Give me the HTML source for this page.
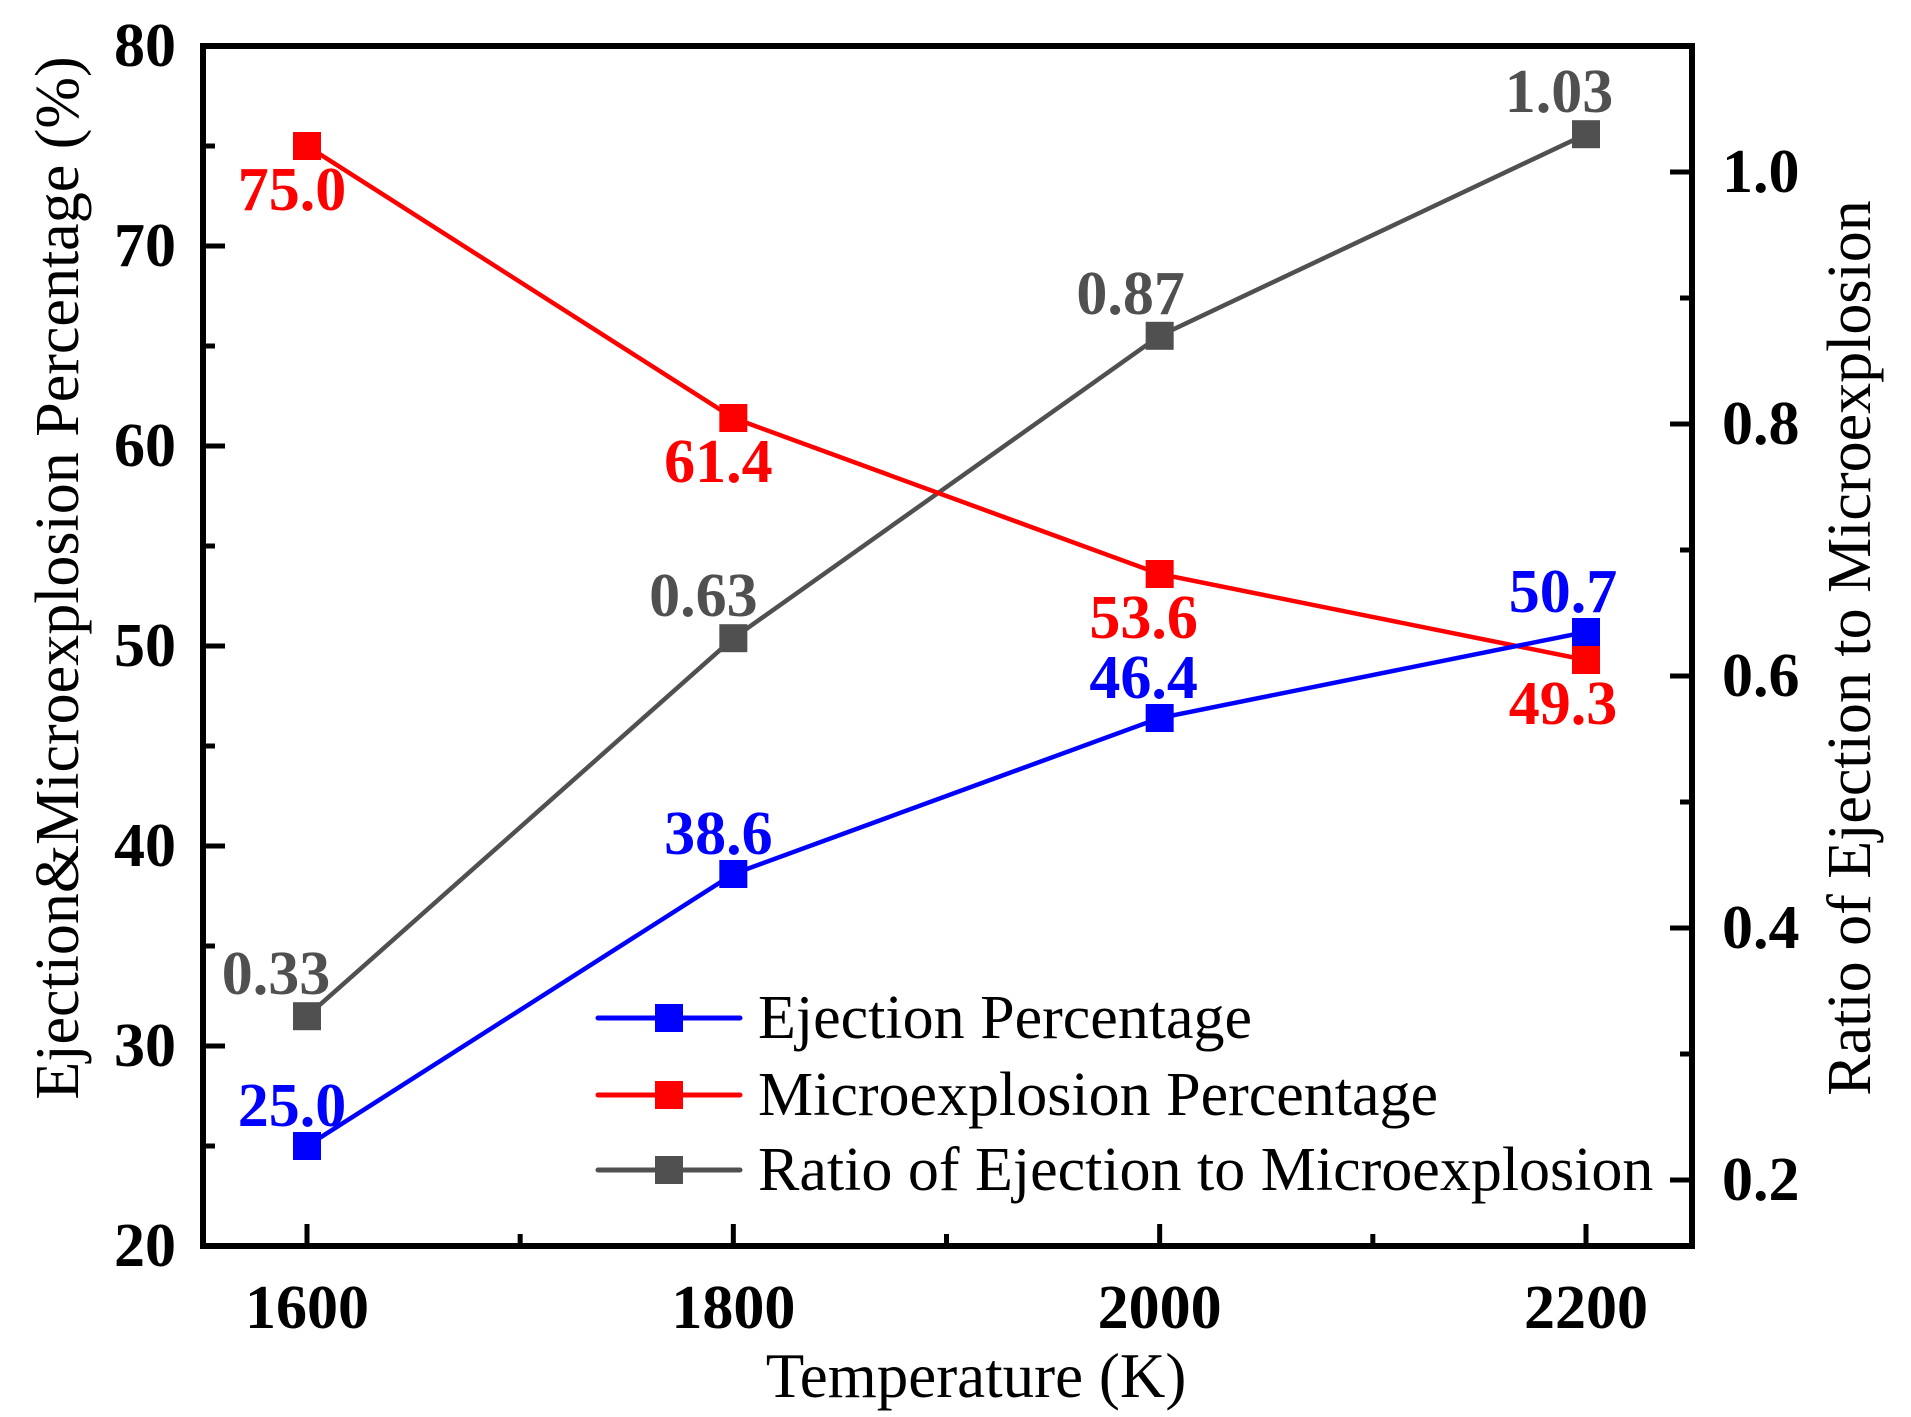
<!DOCTYPE html>
<html><head><meta charset="utf-8"><style>
html,body{margin:0;padding:0;background:#fff}
svg{display:block;font-family:"Liberation Serif","Times New Roman",serif}
</style></head><body>
<svg id="chart" width="1911" height="1417" viewBox="0 0 1911 1417" xmlns="http://www.w3.org/2000/svg"></svg>
<script>
const categories = [1600, 1800, 2000, 2200];
const ejection = [25.0, 38.6, 46.4, 50.7];
const microexplosion = [75.0, 61.4, 53.6, 49.3];
const ratio = [0.33, 0.63, 0.87, 1.03];
const ejectionLabels = ["25.0", "38.6", "46.4", "50.7"];
const microLabels = ["75.0", "61.4", "53.6", "49.3"];
const ratioLabels = ["0.33", "0.63", "0.87", "1.03"];
const leftTicks = [20, 30, 40, 50, 60, 70, 80];
const rightTicks = [0.2, 0.4, 0.6, 0.8, 1.0];
const rightTickLabels = ["0.2", "0.4", "0.6", "0.8", "1.0"];

const NS = "http://www.w3.org/2000/svg";
const svg = document.getElementById('chart');
const L = 203, R = 1692, T = 46, B = 1246;
function xs(v){ return 307 + (v - 1600) * (1586 - 307) / 600; }
function yl(v){ return B - (v - 20) * (B - T) / 60; }
function yr(v){ return 1180 - (v - 0.2) * 1260; }
function mk(tag, attrs, parent){ const e = document.createElementNS(NS, tag); for (const k in attrs) e.setAttribute(k, attrs[k]); (parent || svg).appendChild(e); return e; }

const tickG = mk('g', {});


for (let v = 20; v <= 80; v += 5) {
  const len = v % 10 === 0 ? 22 : 12;
  mk('line', {x1: L, x2: L + len, y1: yl(v), y2: yl(v), stroke: '#000', 'stroke-width': 5}, tickG);
}
for (let v = 0.2; v <= 1.1001; v += 0.1) {
  const major = Math.round(v * 10) % 2 === 0;
  const len = major ? 22 : 12;
  mk('line', {x1: R - len, x2: R, y1: yr(v), y2: yr(v), stroke: '#000', 'stroke-width': 5}, tickG);
}
for (let v = 1600; v <= 2200; v += 100) {
  const len = v % 200 === 0 ? 22 : 12;
  mk('line', {x1: xs(v), x2: xs(v), y1: B - len, y2: B, stroke: '#000', 'stroke-width': 5}, tickG);
}
const frame = mk('rect', {x: L, y: T, width: R - L, height: B - T, fill: 'none', stroke: '#000', 'stroke-width': 6});



leftTicks.forEach(v => {
  const t = mk('text', {x: 176, y: yl(v), 'font-size': 62, 'font-weight': 'bold', 'text-anchor': 'end', 'dominant-baseline': 'central'});
  t.textContent = v;
  
  
});
rightTicks.forEach((v, i) => {
  const t = mk('text', {x: 1722, y: yr(v), 'font-size': 62, 'font-weight': 'bold', 'dominant-baseline': 'central'});
  t.textContent = rightTickLabels[i];
  
  
});
categories.forEach(v => {
  const t = mk('text', {x: xs(v), y: 1308, 'font-size': 62, 'font-weight': 'bold', 'text-anchor': 'middle', 'dominant-baseline': 'central'});
  t.textContent = v;
  
  
});

let t = mk('text', {x: 976, y: 1376, 'font-size': 63, 'text-anchor': 'middle', 'dominant-baseline': 'central'});
t.textContent = 'Temperature (K)';


t = mk('text', {x: 0, y: 0, 'font-size': 62, 'text-anchor': 'middle', 'dominant-baseline': 'central', transform: 'translate(58,578) rotate(-90)'});
t.textContent = 'Ejection&Microexplosion Percentage (%)';


t = mk('text', {x: 0, y: 0, 'font-size': 62, 'text-anchor': 'middle', 'dominant-baseline': 'central', transform: 'translate(1850,648) rotate(-90)'});
t.textContent = 'Ratio of Ejection to Microexplosion';



function series(vals, yf, color, name, labels, offs){
  const g = mk('g', {});
  
  
  mk('polyline', {points: vals.map((v,i)=>xs(categories[i])+','+yf(v)).join(' '), fill: 'none', stroke: color, 'stroke-width': 4.5}, g);
  vals.forEach((v,i) => {
    const r = mk('rect', {x: xs(categories[i]) - 14, y: yf(v) - 14, width: 28, height: 28, fill: color}, g);
    
    
    const lb = mk('text', {x: xs(categories[i]) + offs[i][0], y: yf(v) + offs[i][1], 'font-size': 62, 'font-weight': 'bold', fill: color, 'text-anchor': 'middle', 'dominant-baseline': 'central'}, g);
    lb.textContent = labels[i];
    
    
  });
}
series(ratio, yr, '#505050', 'ratio-series', ratioLabels, [[-31,-42],[-30,-42],[-29,-42],[-27,-42]]);
series(microexplosion, yl, '#ff0000', 'microexplosion-series', microLabels, [[-15,44],[-15,44],[-16,44],[-23,44]]);
series(ejection, yl, '#0000ff', 'ejection-series', ejectionLabels, [[-15,-40],[-15,-40],[-16,-40],[-23,-40]]);

const legend = [['Ejection Percentage','#0000ff',1018],['Microexplosion Percentage','#ff0000',1095],['Ratio of Ejection to Microexplosion','#505050',1170]];
const lg = mk('g', {});


legend.forEach(([txt,c,y]) => {
  const e = mk('g', {}, lg);
  
  
  mk('line', {x1: 598, x2: 740, y1: y, y2: y, stroke: c, 'stroke-width': 5, 'stroke-linecap': 'round'}, e);
  mk('rect', {x: 655, y: y - 14, width: 28, height: 28, fill: c}, e);
  const tx = mk('text', {x: 758, y: y, 'font-size': 62, 'dominant-baseline': 'central'}, e);
  tx.textContent = txt;
});
</script>
</body></html>
